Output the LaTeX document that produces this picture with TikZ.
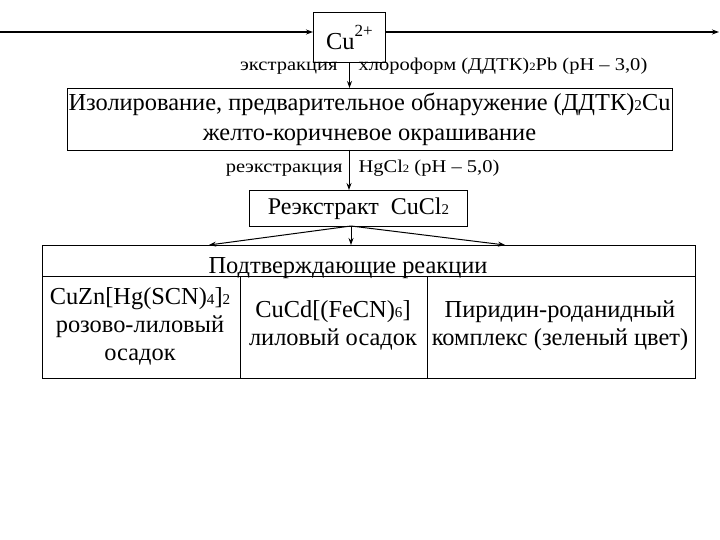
\documentclass[tikz,border=0pt]{standalone}
\usepackage{fontspec}
\usepackage{graphicx}
\setmainfont{Liberation Serif}
\usetikzlibrary{arrows.meta}
\newcommand\lo[1]{\scalebox{0.62}{#1}}
\newcommand\wide[1]{\scalebox{1.14}[1]{#1}}
\begin{document}
\begin{tikzpicture}[x=1pt,y=-1pt, line width=1pt,
  >={Stealth[length=7pt,width=5pt]},
  box/.style={draw, inner sep=0pt, anchor=north west},
  lbl/.style={inner sep=0pt, font=\fontsize{18}{20}\selectfont},
  big/.style={font=\fontsize{24.4}{30}\selectfont, align=center, inner sep=0pt},
  cell/.style={draw, inner sep=0pt, anchor=north west, font=\fontsize{24.4}{28}\selectfont, align=center}]
\useasboundingbox (0,0) rectangle (720,540);
% Cu box
\node[box, minimum width=72, minimum height=50, font=\fontsize{24.4}{28}\selectfont] (cu) at (313,12) {Cu\raisebox{0.55em}{\fontsize{17}{18}\selectfont 2+}};
\coordinate (lin) at (0,32);
\coordinate (rout) at (719,32);
\draw[->, line width=1.6pt] (lin) -- (cu.west |- lin);
\draw[->, line width=1.6pt] (cu.east |- lin) -- (rout);
% isolation box
\node[box, minimum width=605, minimum height=62] (iso) at (67,88) {};
\node[big, anchor=base] (isot1) at (369.5,111) {Изолирование, предварительное обнаружение (ДДТК)\lo{2}Cu};
\node[big, anchor=base] (isot2) at (369.5,141) {желто-коричневое окрашивание};
\draw[->] (cu.south) -- (iso.north -| cu.south);
\node[lbl, anchor=base east] (ex) at (338,71) {\wide{экстракция}};
\node[lbl, anchor=base west] (chl) at (358,71) {\wide{хлороформ (ДДТК)\lo{2}Pb (pH – 3,0)}};
% re-extract box
\node[box, minimum width=218, minimum height=36, font=\fontsize{24}{26}\selectfont] (re) at (249,190) {Реэкстракт\ \ CuCl\lo{2}};
\coordinate (a1) at (349,150);
\draw[->] (a1) -- (a1 |- re.north);
\node[lbl, anchor=base east] (rex) at (343,173) {\wide{реэкстракция}};
\node[lbl, anchor=base west] (hg) at (358,173) {\wide{HgCl\lo{2} (pH – 5,0)}};
% table
\node[cell, minimum width=653, minimum height=31] (hdr) at (42,245) {};
\node[font=\fontsize{24.4}{28}\selectfont, anchor=base, inner sep=0pt] (hdrt) at (348,273) {Подтверждающие реакции};
\node[cell, minimum width=198, minimum height=102] (c1) at (42,276) {};
\node[cell, minimum width=187, minimum height=102] (c2) at (240,276) {};
\node[cell, minimum width=268, minimum height=102] (c3) at (427,276) {};
\node[cell, draw=none, anchor=north] (c1t) at (140,287) {CuZn[Hg(SCN)\lo{4}]\lo{2}\\розово-лиловый\\осадок};
\node[cell, draw=none, anchor=north] (c2t) at (333,300) {CuCd[(FeCN)\lo{6}]\\лиловый осадок};
\node[cell, draw=none, anchor=north] (c3t) at (560,300) {Пиридин-роданидный\\комплекс (зеленый цвет)};
% fan arrows
\coordinate (fo) at (351,226);
\draw[->] (fo) -- (hdr.north -| 209,0);
\draw[->] (fo) -- (hdr.north -| 351,0);
\draw[->] (fo) -- (hdr.north -| 505,0);
\end{tikzpicture}
\end{document}
